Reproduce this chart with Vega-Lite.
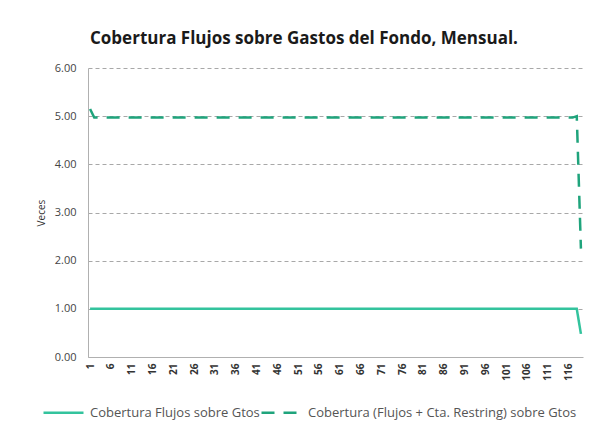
{
  "$schema": "https://vega.github.io/schema/vega-lite/v6.json",
  "width": 495,
  "height": 289,
  "autosize": {"type": "none"},
  "padding": {"left": 88, "top": 68, "right": 10, "bottom": 66},
  "background": "white",
  "config": {"view": {"stroke": null}, "font": "Open Sans"},
  "title": {
    "text": "Cobertura Flujos sobre Gastos del Fondo, Mensual.",
    "anchor": "start",
    "frame": "group",
    "dx": 2,
    "offset": 14,
    "fontSize": 17,
    "fontWeight": "bold",
    "color": "#1a1a1a",
    "font": "Open Sans"
  },
  "data": {
    "values": [
      {"m":1,"s":"A","v":1.0},{"m":2,"s":"A","v":1.0},{"m":3,"s":"A","v":1.0},{"m":4,"s":"A","v":1.0},{"m":5,"s":"A","v":1.0},{"m":6,"s":"A","v":1.0},{"m":7,"s":"A","v":1.0},{"m":8,"s":"A","v":1.0},{"m":9,"s":"A","v":1.0},{"m":10,"s":"A","v":1.0},
      {"m":11,"s":"A","v":1.0},{"m":12,"s":"A","v":1.0},{"m":13,"s":"A","v":1.0},{"m":14,"s":"A","v":1.0},{"m":15,"s":"A","v":1.0},{"m":16,"s":"A","v":1.0},{"m":17,"s":"A","v":1.0},{"m":18,"s":"A","v":1.0},{"m":19,"s":"A","v":1.0},{"m":20,"s":"A","v":1.0},
      {"m":21,"s":"A","v":1.0},{"m":22,"s":"A","v":1.0},{"m":23,"s":"A","v":1.0},{"m":24,"s":"A","v":1.0},{"m":25,"s":"A","v":1.0},{"m":26,"s":"A","v":1.0},{"m":27,"s":"A","v":1.0},{"m":28,"s":"A","v":1.0},{"m":29,"s":"A","v":1.0},{"m":30,"s":"A","v":1.0},
      {"m":31,"s":"A","v":1.0},{"m":32,"s":"A","v":1.0},{"m":33,"s":"A","v":1.0},{"m":34,"s":"A","v":1.0},{"m":35,"s":"A","v":1.0},{"m":36,"s":"A","v":1.0},{"m":37,"s":"A","v":1.0},{"m":38,"s":"A","v":1.0},{"m":39,"s":"A","v":1.0},{"m":40,"s":"A","v":1.0},
      {"m":41,"s":"A","v":1.0},{"m":42,"s":"A","v":1.0},{"m":43,"s":"A","v":1.0},{"m":44,"s":"A","v":1.0},{"m":45,"s":"A","v":1.0},{"m":46,"s":"A","v":1.0},{"m":47,"s":"A","v":1.0},{"m":48,"s":"A","v":1.0},{"m":49,"s":"A","v":1.0},{"m":50,"s":"A","v":1.0},
      {"m":51,"s":"A","v":1.0},{"m":52,"s":"A","v":1.0},{"m":53,"s":"A","v":1.0},{"m":54,"s":"A","v":1.0},{"m":55,"s":"A","v":1.0},{"m":56,"s":"A","v":1.0},{"m":57,"s":"A","v":1.0},{"m":58,"s":"A","v":1.0},{"m":59,"s":"A","v":1.0},{"m":60,"s":"A","v":1.0},
      {"m":61,"s":"A","v":1.0},{"m":62,"s":"A","v":1.0},{"m":63,"s":"A","v":1.0},{"m":64,"s":"A","v":1.0},{"m":65,"s":"A","v":1.0},{"m":66,"s":"A","v":1.0},{"m":67,"s":"A","v":1.0},{"m":68,"s":"A","v":1.0},{"m":69,"s":"A","v":1.0},{"m":70,"s":"A","v":1.0},
      {"m":71,"s":"A","v":1.0},{"m":72,"s":"A","v":1.0},{"m":73,"s":"A","v":1.0},{"m":74,"s":"A","v":1.0},{"m":75,"s":"A","v":1.0},{"m":76,"s":"A","v":1.0},{"m":77,"s":"A","v":1.0},{"m":78,"s":"A","v":1.0},{"m":79,"s":"A","v":1.0},{"m":80,"s":"A","v":1.0},
      {"m":81,"s":"A","v":1.0},{"m":82,"s":"A","v":1.0},{"m":83,"s":"A","v":1.0},{"m":84,"s":"A","v":1.0},{"m":85,"s":"A","v":1.0},{"m":86,"s":"A","v":1.0},{"m":87,"s":"A","v":1.0},{"m":88,"s":"A","v":1.0},{"m":89,"s":"A","v":1.0},{"m":90,"s":"A","v":1.0},
      {"m":91,"s":"A","v":1.0},{"m":92,"s":"A","v":1.0},{"m":93,"s":"A","v":1.0},{"m":94,"s":"A","v":1.0},{"m":95,"s":"A","v":1.0},{"m":96,"s":"A","v":1.0},{"m":97,"s":"A","v":1.0},{"m":98,"s":"A","v":1.0},{"m":99,"s":"A","v":1.0},{"m":100,"s":"A","v":1.0},
      {"m":101,"s":"A","v":1.0},{"m":102,"s":"A","v":1.0},{"m":103,"s":"A","v":1.0},{"m":104,"s":"A","v":1.0},{"m":105,"s":"A","v":1.0},{"m":106,"s":"A","v":1.0},{"m":107,"s":"A","v":1.0},{"m":108,"s":"A","v":1.0},{"m":109,"s":"A","v":1.0},{"m":110,"s":"A","v":1.0},
      {"m":111,"s":"A","v":1.0},{"m":112,"s":"A","v":1.0},{"m":113,"s":"A","v":1.0},{"m":114,"s":"A","v":1.0},{"m":115,"s":"A","v":1.0},{"m":116,"s":"A","v":1.0},{"m":117,"s":"A","v":1.0},{"m":118,"s":"A","v":1.0},{"m":119,"s":"A","v":0.48},
      {"m":1,"s":"B","v":5.15},{"m":2,"s":"B","v":4.97},{"m":3,"s":"B","v":4.97},{"m":4,"s":"B","v":4.97},{"m":5,"s":"B","v":4.97},{"m":6,"s":"B","v":4.97},{"m":7,"s":"B","v":4.97},{"m":8,"s":"B","v":4.97},{"m":9,"s":"B","v":4.97},{"m":10,"s":"B","v":4.97},
      {"m":11,"s":"B","v":4.97},{"m":12,"s":"B","v":4.97},{"m":13,"s":"B","v":4.97},{"m":14,"s":"B","v":4.97},{"m":15,"s":"B","v":4.97},{"m":16,"s":"B","v":4.97},{"m":17,"s":"B","v":4.97},{"m":18,"s":"B","v":4.97},{"m":19,"s":"B","v":4.97},{"m":20,"s":"B","v":4.97},
      {"m":21,"s":"B","v":4.97},{"m":22,"s":"B","v":4.97},{"m":23,"s":"B","v":4.97},{"m":24,"s":"B","v":4.97},{"m":25,"s":"B","v":4.97},{"m":26,"s":"B","v":4.97},{"m":27,"s":"B","v":4.97},{"m":28,"s":"B","v":4.97},{"m":29,"s":"B","v":4.97},{"m":30,"s":"B","v":4.97},
      {"m":31,"s":"B","v":4.97},{"m":32,"s":"B","v":4.97},{"m":33,"s":"B","v":4.97},{"m":34,"s":"B","v":4.97},{"m":35,"s":"B","v":4.97},{"m":36,"s":"B","v":4.97},{"m":37,"s":"B","v":4.97},{"m":38,"s":"B","v":4.97},{"m":39,"s":"B","v":4.97},{"m":40,"s":"B","v":4.97},
      {"m":41,"s":"B","v":4.97},{"m":42,"s":"B","v":4.97},{"m":43,"s":"B","v":4.97},{"m":44,"s":"B","v":4.97},{"m":45,"s":"B","v":4.97},{"m":46,"s":"B","v":4.97},{"m":47,"s":"B","v":4.97},{"m":48,"s":"B","v":4.97},{"m":49,"s":"B","v":4.97},{"m":50,"s":"B","v":4.97},
      {"m":51,"s":"B","v":4.97},{"m":52,"s":"B","v":4.97},{"m":53,"s":"B","v":4.97},{"m":54,"s":"B","v":4.97},{"m":55,"s":"B","v":4.97},{"m":56,"s":"B","v":4.97},{"m":57,"s":"B","v":4.97},{"m":58,"s":"B","v":4.97},{"m":59,"s":"B","v":4.97},{"m":60,"s":"B","v":4.97},
      {"m":61,"s":"B","v":4.97},{"m":62,"s":"B","v":4.97},{"m":63,"s":"B","v":4.97},{"m":64,"s":"B","v":4.97},{"m":65,"s":"B","v":4.97},{"m":66,"s":"B","v":4.97},{"m":67,"s":"B","v":4.97},{"m":68,"s":"B","v":4.97},{"m":69,"s":"B","v":4.97},{"m":70,"s":"B","v":4.97},
      {"m":71,"s":"B","v":4.97},{"m":72,"s":"B","v":4.97},{"m":73,"s":"B","v":4.97},{"m":74,"s":"B","v":4.97},{"m":75,"s":"B","v":4.97},{"m":76,"s":"B","v":4.97},{"m":77,"s":"B","v":4.97},{"m":78,"s":"B","v":4.97},{"m":79,"s":"B","v":4.97},{"m":80,"s":"B","v":4.97},
      {"m":81,"s":"B","v":4.97},{"m":82,"s":"B","v":4.97},{"m":83,"s":"B","v":4.97},{"m":84,"s":"B","v":4.97},{"m":85,"s":"B","v":4.97},{"m":86,"s":"B","v":4.97},{"m":87,"s":"B","v":4.97},{"m":88,"s":"B","v":4.97},{"m":89,"s":"B","v":4.97},{"m":90,"s":"B","v":4.97},
      {"m":91,"s":"B","v":4.97},{"m":92,"s":"B","v":4.97},{"m":93,"s":"B","v":4.97},{"m":94,"s":"B","v":4.97},{"m":95,"s":"B","v":4.97},{"m":96,"s":"B","v":4.97},{"m":97,"s":"B","v":4.97},{"m":98,"s":"B","v":4.97},{"m":99,"s":"B","v":4.97},{"m":100,"s":"B","v":4.97},
      {"m":101,"s":"B","v":4.97},{"m":102,"s":"B","v":4.97},{"m":103,"s":"B","v":4.97},{"m":104,"s":"B","v":4.97},{"m":105,"s":"B","v":4.97},{"m":106,"s":"B","v":4.97},{"m":107,"s":"B","v":4.97},{"m":108,"s":"B","v":4.97},{"m":109,"s":"B","v":4.97},{"m":110,"s":"B","v":4.97},
      {"m":111,"s":"B","v":4.97},{"m":112,"s":"B","v":4.97},{"m":113,"s":"B","v":4.97},{"m":114,"s":"B","v":4.97},{"m":115,"s":"B","v":4.97},{"m":116,"s":"B","v":4.97},{"m":117,"s":"B","v":4.97},{"m":118,"s":"B","v":5.0},{"m":119,"s":"B","v":2.25}
    ]
  },
  "mark": {"type": "line", "strokeWidth": 2.5, "clip": true},
  "encoding": {
    "x": {
      "field": "m",
      "type": "quantitative",
      "scale": {"domain": [0.5, 119.5], "nice": false, "zero": false},
      "axis": {
        "title": null,
        "values": [1,6,11,16,21,26,31,36,41,46,51,56,61,66,71,76,81,86,91,96,101,106,111,116],
        "labelAngle": -90,
        "labelFontSize": 10,
        "labelColor": "#333",
        "labelFont": "Open Sans",
        "labelFontWeight": "bold",
        "domainColor": "#b0b0b0",
        "ticks": false,
        "grid": false,
        "labelPadding": 6
      }
    },
    "y": {
      "field": "v",
      "type": "quantitative",
      "scale": {"domain": [0, 6], "nice": false},
      "axis": {
        "title": "Veces",
        "titleFontSize": 10,
        "titleFontWeight": "normal",
        "titleColor": "#333",
        "titlePadding": 8,
        "values": [0,1,2,3,4,5,6],
        "format": ".2f",
        "labelFontSize": 11,
        "labelColor": "#444",
        "labelPadding": 12,
        "ticks": false,
        "domainColor": "#b0b0b0",
        "grid": true,
        "gridDash": [4, 3],
        "gridColor": "#a8a8a8",
        "gridWidth": 1
      }
    },
    "color": {
      "field": "s",
      "type": "nominal",
      "scale": {"domain": ["A", "B"], "range": ["#33C39D", "#1FA47C"]},
      "legend": {
        "title": null,
        "orient": "none",
        "legendX": -46,
        "legendY": 323,
        "direction": "horizontal",
        "symbolType": "stroke",
        "symbolSize": 1600,
        "symbolStrokeWidth": 2.5,
        "labelFontSize": 13,
        "labelLimit": 0,
        "labelOffset": 5,
        "labelColor": "#555",
        "columnPadding": -6,
        "labelExpr": "datum.label == 'A' ? 'Cobertura Flujos sobre Gtos' : 'Cobertura (Flujos + Cta. Restring) sobre Gtos'"
      }
    },
    "strokeDash": {
      "field": "s",
      "type": "nominal",
      "scale": {"domain": ["A", "B"], "range": [[1, 0], [13, 9]]},
      "legend": {
        "title": null,
        "orient": "none",
        "legendX": -46,
        "legendY": 323,
        "direction": "horizontal",
        "symbolType": "stroke",
        "symbolSize": 1600,
        "labelFontSize": 13,
        "labelLimit": 0,
        "labelOffset": 5,
        "labelColor": "#555",
        "columnPadding": -6,
        "labelExpr": "datum.label == 'A' ? 'Cobertura Flujos sobre Gtos' : 'Cobertura (Flujos + Cta. Restring) sobre Gtos'"
      }
    }
  }
}
